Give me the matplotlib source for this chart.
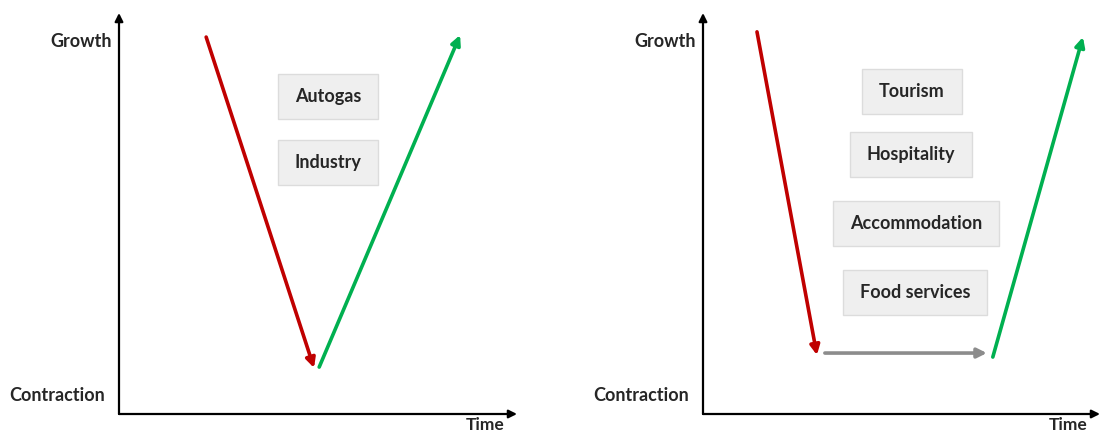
import matplotlib
matplotlib.use("Agg")
import matplotlib.pyplot as plt
from matplotlib.patches import Rectangle

# ---- data (axis units 0..10: time on x, growth level on y) ----
v_labels = ["Autogas", "Industry"]
v_label_x = [5.25, 5.25]
v_label_y = [7.91, 6.28]
v_down = [(2.19, 9.40), (4.90, 1.15)]
v_up = [(5.03, 1.17), (8.57, 9.45)]

u_labels = ["Tourism", "Hospitality", "Accommodation", "Food services"]
u_label_x = [5.26, 5.24, 5.37, 5.34]
u_label_y = [8.05, 6.46, 4.74, 3.02]
u_down = [(1.36, 9.53), (2.87, 1.47)]
u_flat = [(3.07, 1.52), (7.15, 1.52)]
u_up = [(7.30, 1.42), (9.57, 9.40)]

y_tick_pos = [9.28, 0.45]
y_tick_labels = ["Growth", "Contraction"]
x_label = "Time"

RED = "#c00000"
GREEN = "#00b050"
GREY = "#8c8c8c"
TXT = "#262626"
FS = 13

plt.rcParams['font.family'] = ['Lato', 'DejaVu Sans']

fig = plt.figure(figsize=(11, 4.34), dpi=100)
H = 434.0
W = 1100.0
bottom = (H - 414) / H
height = (414 - 13) / H
ax1 = fig.add_axes([119 / W, bottom, 398 / W, height])
ax2 = fig.add_axes([703 / W, bottom, 397 / W, height])


def setup(ax, label_dx):
    ax.set_xlim(0, 10)
    ax.set_ylim(0, 10)
    ax.axis('off')
    ax.annotate("", xy=(0, 10), xytext=(0, 0),
                arrowprops=dict(arrowstyle='-|>', lw=1.6, color='black',
                                mutation_scale=12, shrinkA=0, shrinkB=0))
    ax.annotate("", xy=(10, 0), xytext=(0, 0),
                arrowprops=dict(arrowstyle='-|>', lw=1.6, color='black',
                                mutation_scale=12, shrinkA=0, shrinkB=0))
    for yv, lab, dx in zip(y_tick_pos, y_tick_labels, label_dx):
        ax.text(dx, yv, lab, ha='right', va='center', fontsize=FS,
                fontweight='bold', color=TXT)
    ax.text(9.2, -0.08, x_label, ha='center', va='top', fontsize=12.5,
            fontweight='bold', color=TXT)


def arrow(ax, seg, color):
    (x0, y0), (x1, y1) = seg
    ax.annotate("", xy=(x1, y1), xytext=(x0, y0),
                arrowprops=dict(arrowstyle='-|>', lw=2.6, color=color,
                                mutation_scale=14, shrinkA=0, shrinkB=0))


def boxes(ax, labels, xs, ys, padx=17, pady=14):
    renderer = fig.canvas.get_renderer()
    inv = ax.transData.inverted()
    for lab, x, y in zip(labels, xs, ys):
        t = ax.text(x, y, lab, ha='center', va='center', fontsize=FS,
                    fontweight='bold', color=TXT, zorder=3)
        bb = t.get_window_extent(renderer)
        (x0, y0) = inv.transform((bb.x0 - padx, bb.y0 - pady))
        (x1, y1) = inv.transform((bb.x1 + padx, bb.y1 + pady))
        ax.add_patch(Rectangle((x0, y0), x1 - x0, y1 - y0, fc='#efefef',
                               ec='#dcdcdc', lw=1.0, zorder=2))


setup(ax1, [-0.18, -0.35])
setup(ax2, [-0.18, -0.35])

arrow(ax1, v_down, RED)
arrow(ax1, v_up, GREEN)
boxes(ax1, v_labels, v_label_x, v_label_y)

arrow(ax2, u_down, RED)
arrow(ax2, u_flat, GREY)
arrow(ax2, u_up, GREEN)
boxes(ax2, u_labels, u_label_x, u_label_y)

fig.savefig("out.png", dpi=100, facecolor='white')
